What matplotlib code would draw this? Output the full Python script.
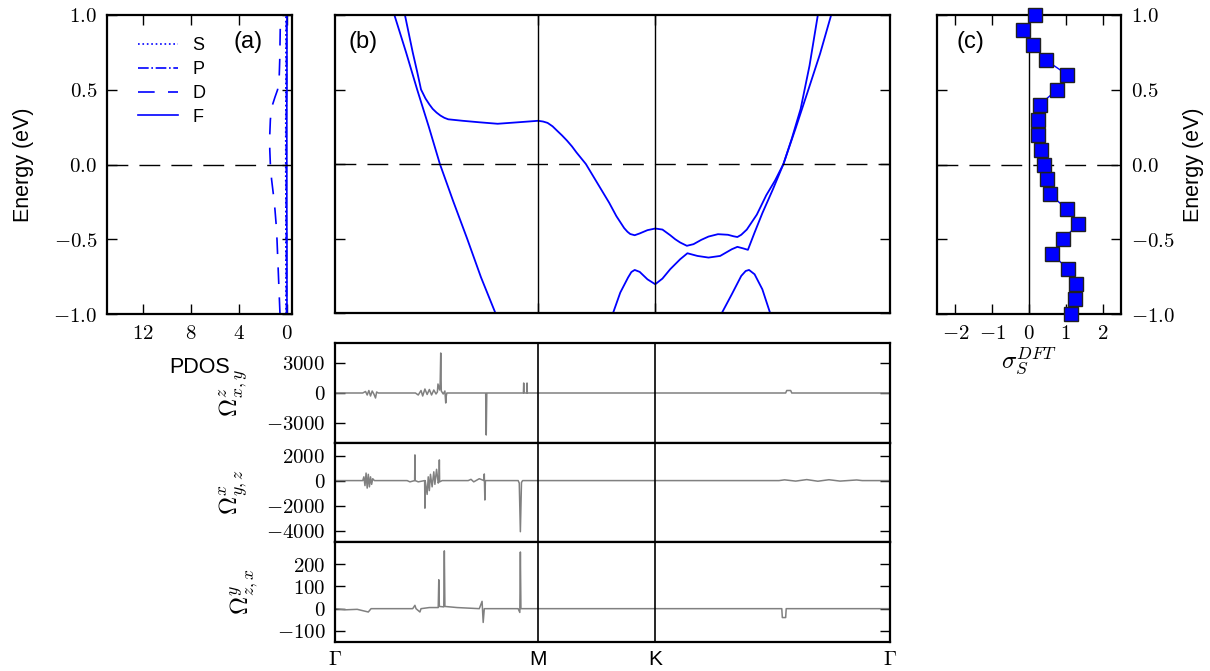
import matplotlib
matplotlib.use("Agg")
import matplotlib.pyplot as plt
from matplotlib.ticker import FuncFormatter

plt.rcParams['font.family'] = ['Liberation Sans', 'DejaVu Sans']
plt.rcParams['mathtext.fontset'] = 'cm'
plt.rcParams['xtick.direction'] = 'in'
plt.rcParams['ytick.direction'] = 'in'
plt.rcParams['xtick.top'] = True
plt.rcParams['ytick.right'] = True
plt.rcParams['xtick.major.size'] = 7.5
plt.rcParams['ytick.major.size'] = 7.5
plt.rcParams['xtick.major.width'] = 1.0
plt.rcParams['ytick.major.width'] = 1.0
plt.rcParams['xtick.major.pad'] = 7
plt.rcParams['ytick.major.pad'] = 7
plt.rcParams['axes.linewidth'] = 1.6
plt.rcParams['xtick.labelsize'] = 15
plt.rcParams['ytick.labelsize'] = 15

# ---- (a) PDOS ----
pdos_energy = [-1.0, -0.9, -0.8, -0.7, -0.6, -0.5, -0.4, -0.3, -0.2, -0.1, 0.0,
               0.1, 0.2, 0.3, 0.4, 0.5, 0.6, 0.7, 0.8, 0.9, 1.0]
pdos_s = [0.10, 0.10, 0.10, 0.10, 0.11, 0.11, 0.11, 0.11, 0.11, 0.12, 0.12,
          0.12, 0.12, 0.12, 0.11, 0.11, 0.10, 0.10, 0.10, 0.10, 0.10]
pdos_p = [0.06, 0.06, 0.06, 0.06, 0.07, 0.07, 0.07, 0.08, 0.08, 0.08, 0.08,
          0.08, 0.08, 0.08, 0.07, 0.07, 0.06, 0.06, 0.06, 0.06, 0.06]
pdos_f = [0.02, 0.02, 0.02, 0.02, 0.02, 0.02, 0.03, 0.03, 0.03, 0.03, 0.03,
          0.03, 0.03, 0.03, 0.03, 0.02, 0.02, 0.02, 0.02, 0.02, 0.02]
pdos_d_energy = [-1.0, -0.9, -0.8, -0.7, -0.6, -0.5, -0.4, -0.3, -0.2, -0.1, 0.0,
                 0.1, 0.2, 0.3, 0.35, 0.4, 0.45, 0.5, 0.55, 0.6, 0.7, 0.8, 0.9, 1.0]
pdos_d = [0.60, 0.65, 0.70, 0.75, 0.80, 0.85, 0.92, 1.02, 1.15, 1.30, 1.40,
          1.45, 1.45, 1.40, 1.33, 1.22, 1.02, 0.80, 0.70, 0.66, 0.62, 0.60, 0.58, 0.55]

# ---- (b) bands, k as fraction of the Gamma-M-K-Gamma path ----
k_ticks = [0.0, 0.366, 0.577, 1.0]
k_labels = [r'$\Gamma$', 'M', 'K', r'$\Gamma$']

band1_k = [0.080, 0.107, 0.128, 0.148, 0.169, 0.189, 0.213, 0.238, 0.263, 0.289, 0.310]
band1_e = [1.40, 1.00, 0.75, 0.50, 0.25, 0.00, -0.25, -0.50, -0.76, -1.00, -1.20]

band2_k = [0.110, 0.126, 0.140, 0.148, 0.155, 0.163, 0.170, 0.176, 0.183, 0.190, 0.197,
           0.204, 0.230, 0.260, 0.293, 0.330, 0.366, 0.375, 0.383, 0.392, 0.400,
           0.409, 0.418, 0.427, 0.435, 0.452, 0.473, 0.494, 0.507, 0.514, 0.521,
           0.527, 0.532, 0.540, 0.549, 0.563, 0.577, 0.590, 0.604, 0.613, 0.622,
           0.634, 0.646, 0.660, 0.673, 0.690, 0.708, 0.718, 0.725, 0.732, 0.742,
           0.760, 0.777, 0.793, 0.808, 0.823, 0.839, 0.855, 0.870, 0.880]
band2_e = [1.30, 1.00, 0.75, 0.62, 0.50, 0.44, 0.40, 0.37, 0.345, 0.325, 0.31,
           0.30, 0.29, 0.28, 0.27, 0.28, 0.29, 0.285, 0.276, 0.253, 0.224,
           0.192, 0.157, 0.118, 0.078, 0.00, -0.13, -0.26, -0.35, -0.39, -0.43,
           -0.455, -0.47, -0.478, -0.466, -0.444, -0.433, -0.44, -0.478, -0.505, -0.527,
           -0.549, -0.538, -0.509, -0.487, -0.471, -0.475, -0.485, -0.49, -0.475, -0.44,
           -0.34, -0.21, -0.11, 0.00, 0.17, 0.37, 0.66, 1.00, 1.22]

band3_k = [0.485, 0.501, 0.514, 0.528, 0.534, 0.540, 0.549, 0.563, 0.577, 0.590,
           0.604, 0.622, 0.635, 0.653, 0.673, 0.694, 0.715, 0.725, 0.736, 0.744,
           0.756, 0.770, 0.789, 0.808, 0.830, 0.853, 0.874, 0.894, 0.905]
band3_e = [-1.30, -1.00, -0.863, -0.762, -0.725, -0.711, -0.724, -0.774, -0.807, -0.769,
           -0.706, -0.639, -0.599, -0.617, -0.628, -0.617, -0.572, -0.556, -0.567, -0.576,
           -0.46, -0.33, -0.17, 0.00, 0.24, 0.50, 0.74, 1.00, 1.15]

band4_k = [0.685, 0.697, 0.715, 0.732, 0.740, 0.746, 0.756, 0.770, 0.784, 0.796]
band4_e = [-1.12, -1.00, -0.874, -0.751, -0.718, -0.711, -0.740, -0.841, -1.00, -1.13]

# ---- (c) sigma_S^DFT ----
sigma_energy = [-1.0, -0.9, -0.8, -0.7, -0.6, -0.5, -0.4, -0.3, -0.2, -0.1, 0.0,
                0.1, 0.2, 0.3, 0.4, 0.5, 0.6, 0.7, 0.8, 0.9, 1.0]
sigma_dft = [1.14, 1.25, 1.29, 1.06, 0.63, 0.92, 1.34, 1.03, 0.58, 0.49, 0.42,
             0.33, 0.25, 0.24, 0.29, 0.76, 1.04, 0.45, 0.12, -0.16, 0.16]

# ---- Berry curvature panels ----
omz_k = [0.0, 0.050, 0.055, 0.058, 0.061, 0.064, 0.067, 0.070, 0.073, 0.075, 0.078,
         0.145, 0.150, 0.155, 0.158, 0.162, 0.166, 0.170, 0.174, 0.178, 0.182,
         0.1845, 0.1855, 0.1885, 0.1895, 0.1905, 0.1915, 0.195, 0.198, 0.1995, 0.2005,
         0.2015, 0.2715, 0.2725, 0.2735, 0.3395, 0.3400, 0.3405, 0.3455, 0.3460, 0.3465,
         0.812, 0.814, 0.821, 0.823, 1.0]
omz_v = [0, 0, 150, -200, 250, -300, 200, -100, -500, 100, 0,
         0, -200, 250, -300, 400, -150, 350, -200, 300, -100,
         100, 900, 300, 1000, 4000, 200, -100, 200, -1000, -300,
         0, 0, -4200, 0, 0, 1000, 0, 0, 1000, 0,
         0, 250, 250, 0, 0]

omx_k = [0.0, 0.050, 0.052, 0.054, 0.056, 0.058, 0.060, 0.062, 0.064, 0.066, 0.068,
         0.071, 0.130, 0.135, 0.1435, 0.1440, 0.1445, 0.150, 0.1615, 0.1620, 0.1625,
         0.166, 0.168, 0.170, 0.172, 0.175, 0.178, 0.180, 0.183, 0.186, 0.1875,
         0.1880, 0.1885, 0.193, 0.240, 0.245, 0.250, 0.260, 0.2685, 0.2690, 0.2700,
         0.2710, 0.330, 0.332, 0.3340, 0.336, 0.338, 0.800, 0.810, 0.830, 0.850,
         0.870, 0.890, 0.910, 0.940, 0.950, 1.0]
omx_v = [0, 0, 300, -400, 600, -600, 500, -500, 300, -300, 150,
         0, 0, -100, 0, 2050, 0, -100, 0, -2200, 0,
         -1100, 300, -800, 500, -500, 700, -300, 900, -200, 0,
         1650, -100, 0, 0, 100, -100, 150, 0, 530, -1550,
         0, 0, -200, -4080, -150, 0, 0, 60, -40, 80,
         -50, 70, -40, 50, 0, 0]

omy_k = [0.0, 0.020, 0.040, 0.060, 0.065, 0.140, 0.144, 0.146, 0.153, 0.155, 0.170,
         0.1860, 0.1870, 0.1880, 0.1960, 0.1970, 0.1980, 0.220, 0.260, 0.2650, 0.2670,
         0.2690, 0.330, 0.3330, 0.3340, 0.3350, 0.450, 0.8050, 0.8060, 0.8120, 0.8130,
         1.0]
omy_v = [0, -5, -3, -15, 0, 0, 15, 0, -15, 0, 5,
         5, 130, 10, 8, 260, 10, 5, 0, 33, -62,
         0, 0, -17, 255, 0, 0, 0, -40, -40, 0,
         0]

W, H = 1210, 671
fig = plt.figure(figsize=(W / 100, H / 100), dpi=100)


def box(x0, y0, x1, y1):
    return [x0 / W, 1 - y1 / H, (x1 - x0) / W, (y1 - y0) / H]


def mfmt(fmt):
    return FuncFormatter(lambda v, p: r'$' + (fmt % v) + r'$')


blue = '#0000ff'

# (a)
ax_a = fig.add_axes(box(107, 15, 292, 314))
ax_a.plot(pdos_s, pdos_energy, ':', color=blue, lw=1.2, label='S')
ax_a.plot(pdos_p, pdos_energy, '-.', color=blue, lw=1.2, label='P')
ax_a.plot(pdos_d, pdos_d_energy, '--', color=blue, lw=1.2, dashes=(10, 8), label='D')
ax_a.plot(pdos_f, pdos_energy, '-', color=blue, lw=1.2, label='F')
ax_a.axhline(0, color='k', lw=1, dashes=(15, 8))
ax_a.set_xlim(15, -0.4)
ax_a.set_ylim(-1, 1)
ax_a.set_xticks([12, 8, 4, 0])
ax_a.set_yticks([-1.0, -0.5, 0.0, 0.5, 1.0])
ax_a.xaxis.set_major_formatter(mfmt('%d'))
ax_a.yaxis.set_major_formatter(mfmt('%.1f'))
ax_a.set_xlabel('PDOS', fontsize=15.5, labelpad=10)
ax_a.set_ylabel('Energy (eV)', fontsize=15.5, labelpad=14)
ax_a.legend(loc='upper left', bbox_to_anchor=(0.08, 0.98), frameon=False,
            fontsize=13, handlelength=2.2, labelspacing=0.38, handletextpad=0.8)
ax_a.text(0.76, 0.91, '(a)', transform=ax_a.transAxes, fontsize=17,
          ha='center', va='center')

# (b)
ax_b = fig.add_axes(box(335, 15, 890, 313))
for bk, be in [(band1_k, band1_e), (band2_k, band2_e), (band3_k, band3_e), (band4_k, band4_e)]:
    ax_b.plot(bk, be, '-', color=blue, lw=1.3)
for kt in k_ticks[1:3]:
    ax_b.axvline(kt, color='k', lw=1)
ax_b.axhline(0, color='k', lw=1, dashes=(15, 8))
ax_b.set_xlim(0, 1)
ax_b.set_ylim(-1, 1)
ax_b.set_xticks(k_ticks[1:3])
ax_b.set_yticks([-1.0, -0.5, 0.0, 0.5, 1.0])
ax_b.tick_params(labelleft=False, labelbottom=False)
ax_b.text(0.05, 0.91, '(b)', transform=ax_b.transAxes, fontsize=17,
          ha='center', va='center')

# (c)
ax_c = fig.add_axes(box(937, 15, 1121, 314))
ax_c.axvline(0, color='k', lw=1)
ax_c.axhline(0, color='k', lw=1, dashes=(15, 8))
ax_c.plot(sigma_dft, sigma_energy, '-', color=blue, lw=1, marker='s', ms=9.5,
          mfc=blue, mec='#202020', mew=1.0, clip_on=False, zorder=3)
ax_c.set_xlim(-2.5, 2.5)
ax_c.set_ylim(-1, 1)
ax_c.set_xticks([-2, -1, 0, 1, 2])
ax_c.set_yticks([-1.0, -0.5, 0.0, 0.5, 1.0])
ax_c.xaxis.set_major_formatter(mfmt('%d'))
ax_c.yaxis.set_major_formatter(mfmt('%.1f'))
ax_c.tick_params(labelleft=False, labelright=True)
ax_c.yaxis.set_label_position('right')
ax_c.set_ylabel('Energy (eV)', fontsize=15.5, labelpad=6)
ax_c.set_xlabel(r'$\sigma_S^{DFT}$', fontsize=18, labelpad=2)
ax_c.text(0.18, 0.91, '(c)', transform=ax_c.transAxes, fontsize=17,
          ha='center', va='center')

# Berry curvature panels
om_panels = [
    (box(335, 343, 890, 443), omz_k, omz_v, (-5000, 5000), [-3000, 0, 3000], r'$\Omega^z_{x,y}$'),
    (box(335, 443, 890, 542), omx_k, omx_v, (-4900, 3000), [-4000, -2000, 0, 2000], r'$\Omega^x_{y,z}$'),
    (box(335, 542, 890, 642), omy_k, omy_v, (-150, 300), [-100, 0, 100, 200], r'$\Omega^y_{z,x}$'),
]
for i, (rect, ok, ov, ylim, yt, lab) in enumerate(om_panels):
    ax = fig.add_axes(rect)
    ax.plot(ok, ov, '-', color='#808080', lw=1.1)
    for kt in k_ticks[1:3]:
        ax.axvline(kt, color='k', lw=1.2)
    ax.set_xlim(0, 1)
    ax.set_ylim(*ylim)
    ax.set_yticks(yt)
    ax.yaxis.set_major_formatter(mfmt('%d'))
    ax.set_xticks(k_ticks)
    ax.tick_params(axis='x', length=0)
    if i == 2:
        ax.set_xticklabels(k_labels, fontsize=15)
        ax.tick_params(axis='x', pad=6)
    else:
        ax.tick_params(labelbottom=False)
    ax.set_ylabel(lab, fontsize=18, labelpad=12)

fig.savefig('out.png', dpi=100)
